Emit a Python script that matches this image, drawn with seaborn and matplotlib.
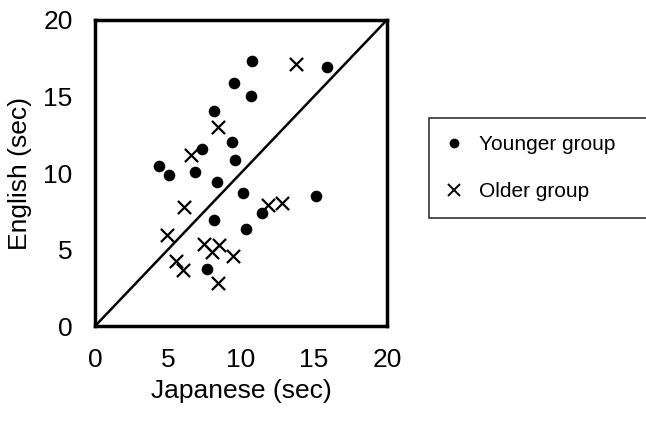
import matplotlib
matplotlib.use("Agg")
import matplotlib.pyplot as plt
import seaborn as sns
import pandas as pd
from matplotlib.lines import Line2D

young_jp = [10.75, 15.9, 9.5, 10.7, 8.15, 9.4, 7.3, 9.6, 4.4, 5.05, 6.85, 8.35, 10.15, 15.15, 11.45, 8.15, 10.35, 7.65]
young_en = [17.3, 16.9, 15.9, 15.0, 14.05, 12.0, 11.55, 10.85, 10.45, 9.85, 10.05, 9.4, 8.7, 8.5, 7.4, 6.9, 6.35, 3.75]
older_jp = [13.8, 8.4, 6.6, 11.85, 12.8, 6.1, 4.9, 7.5, 8.5, 8.0, 9.45, 5.55, 6.05, 8.4]
older_en = [17.1, 13.0, 11.2, 7.9, 8.05, 7.8, 5.95, 5.35, 5.3, 4.85, 4.55, 4.25, 3.65, 2.8]
groups = ["Younger group", "Older group"]
ticks = [0, 5, 10, 15, 20]

df = pd.DataFrame({
    "jp": young_jp + older_jp,
    "en": young_en + older_en,
    "group": [groups[0]] * len(young_jp) + [groups[1]] * len(older_jp),
})

sns.set_style("white")
plt.rcParams["font.family"] = ["Liberation Sans", "DejaVu Sans"]

fig = plt.figure(figsize=(6.46, 4.23), dpi=100)
ax = fig.add_axes([0.147, 0.229, 0.452, 0.724])

ax.plot([ticks[0], ticks[-1]], [ticks[0], ticks[-1]], color="black", lw=1.8, zorder=1)

sns.scatterplot(data=df[df.group == groups[0]], x="jp", y="en", ax=ax,
                marker="o", color="black", s=70, edgecolor="black", linewidth=0, zorder=3, legend=False)
sns.scatterplot(data=df[df.group == groups[1]], x="jp", y="en", ax=ax,
                marker="x", color="black", s=90, linewidth=1.6, zorder=3, legend=False)

ax.set_xlim(ticks[0], ticks[-1])
ax.set_ylim(ticks[0], ticks[-1])
ax.set_xticks(ticks)
ax.set_yticks(ticks)
ax.tick_params(axis="both", direction="in", length=3, width=1, labelsize=19, pad=16, colors="black")
for sp in ax.spines.values():
    sp.set_visible(True)
    sp.set_linewidth(2.5)
    sp.set_color("black")
ax.set_xlabel("Japanese (sec)", fontsize=19, labelpad=5, color="black")
ax.set_ylabel("English (sec)", fontsize=19, labelpad=8, color="black")

handles = [
    Line2D([], [], marker="o", color="black", linestyle="none", markersize=6),
    Line2D([], [], marker="x", color="black", linestyle="none", markersize=8, markeredgewidth=1.4),
]
leg = fig.legend(handles, groups, loc="upper left", bbox_to_anchor=(0.648, 0.745, 0.38, 0.0),
                 mode="expand", fontsize=15, frameon=True, fancybox=False, edgecolor="black",
                 labelcolor="black",
                 handlelength=0.8, handletextpad=0.8, borderpad=0.8, labelspacing=1.35)
leg.get_frame().set_linewidth(1.2)

fig.savefig("out.png", dpi=100)
